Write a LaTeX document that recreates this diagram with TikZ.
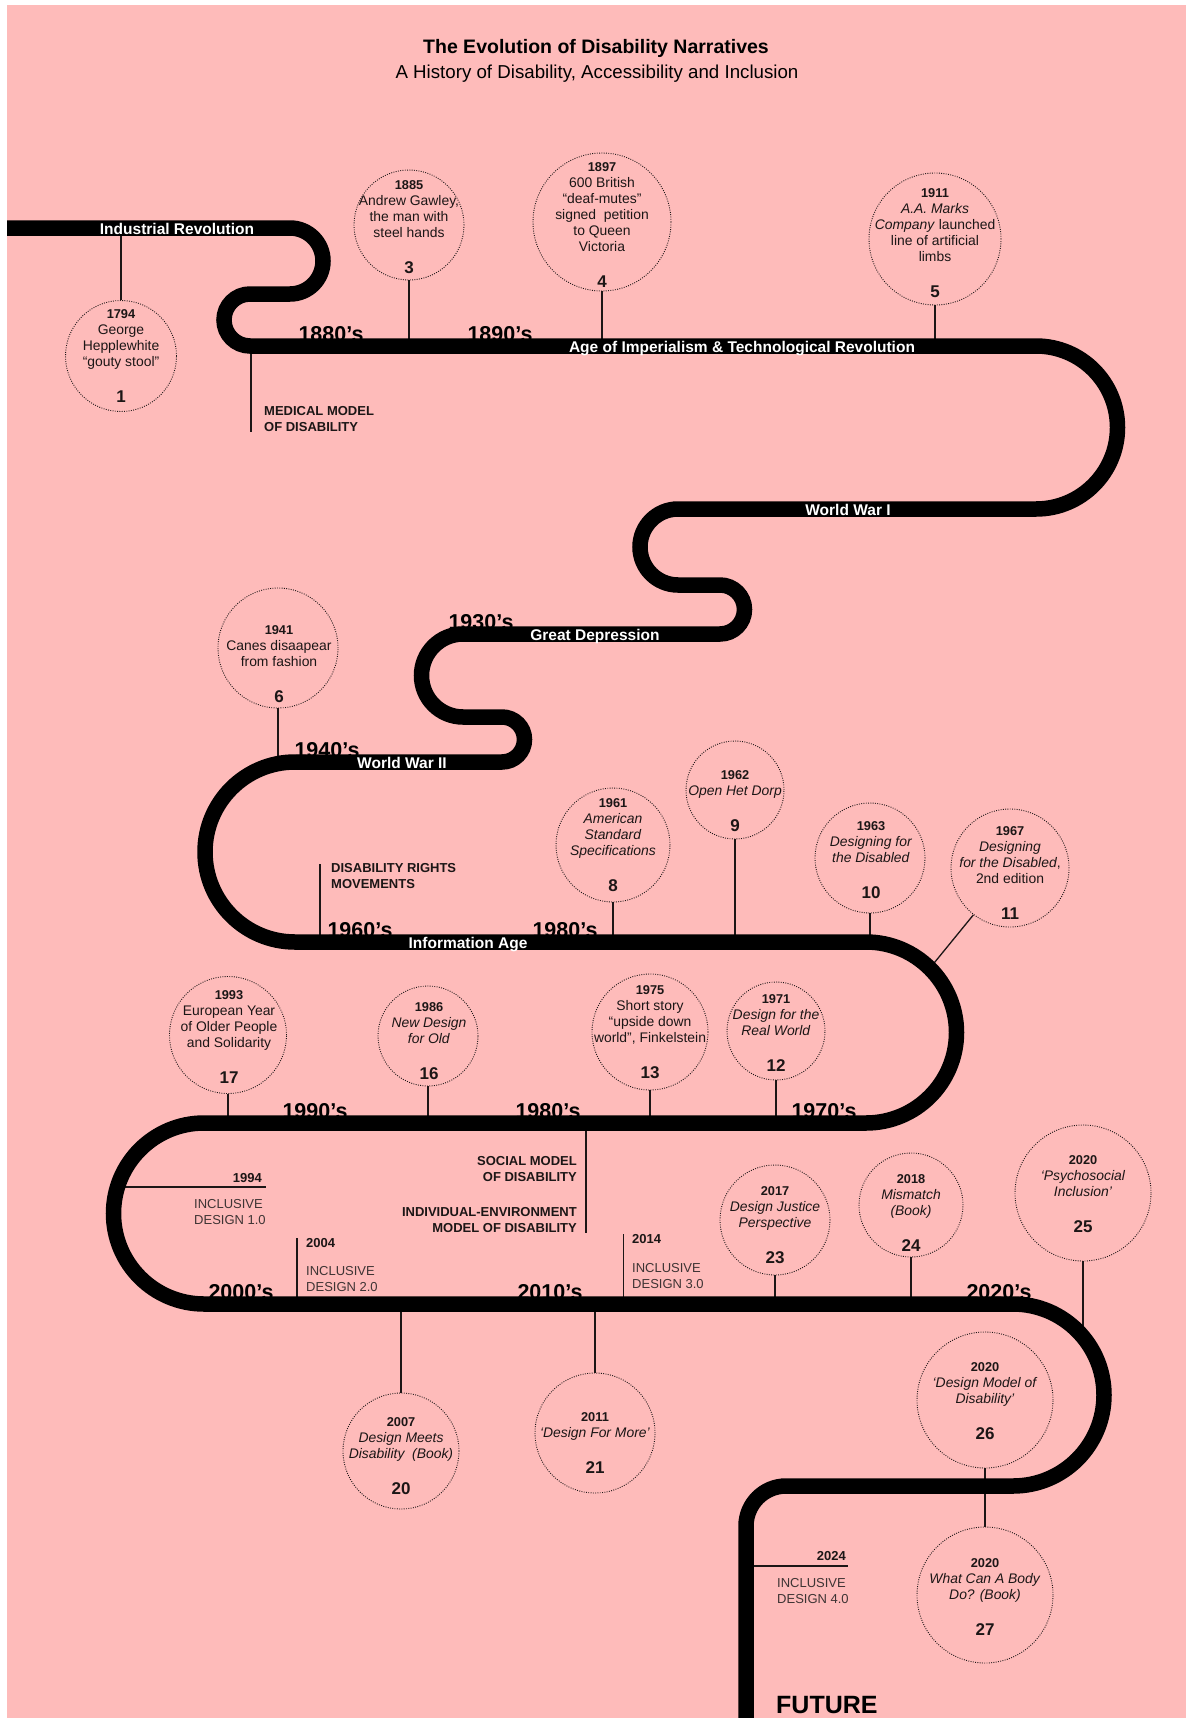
\documentclass[tikz,border=0pt]{standalone}
\usepackage{fontspec}
\setmainfont{Liberation Sans}
\usetikzlibrary{positioning}

\definecolor{bgpink}{RGB}{254,187,186}
\definecolor{inkdark}{RGB}{28,22,22}
\definecolor{inkgrey}{RGB}{62,52,52}

\newcommand{\evyear}[1]{{\fontsize{12.8}{16}\selectfont\bfseries #1}}
\newcommand{\evnumber}[1]{{\fontsize{17}{16}\selectfont\bfseries #1}}

\begin{document}
\begin{tikzpicture}[x=1pt,y=-1pt,
  road/.style={draw=black, line width=15.5pt},
  roadlbl/.style={text=white, font=\fontsize{15.5}{18}\selectfont\bfseries, anchor=base, inner sep=0pt},
  decade/.style={text=black, font=\fontsize{21.5}{24}\selectfont\bfseries, anchor=base, inner sep=0pt},
  ring/.style={circle, draw=inkdark, line width=0.9pt, dash pattern=on 0.9pt off 1.4pt, inner sep=0pt},
  evt/.style={align=center, text=inkdark, font=\fontsize{13.9}{16}\selectfont, inner sep=0pt},
  stem/.style={draw=inkdark, line width=1.3pt},
  cat/.style={text=inkdark, font=\fontsize{13}{15.5}\selectfont\bfseries, inner sep=0pt},
  incl/.style={text=inkgrey, font=\fontsize{13}{15.5}\selectfont, align=left, inner sep=0pt}]

% page
\fill[white] (0,0) rectangle (1186,1718);
\fill[bgpink] (7,5) rectangle (1186,1718);
\useasboundingbox (0,0) rectangle (1186,1718);

% title
\node[font=\fontsize{19.5}{22}\selectfont\bfseries, anchor=base] (title) at (596,54) {The Evolution of Disability Narratives};
\node[font=\fontsize{18.7}{22}\selectfont, anchor=base] (subtitle) at (597,79) {A History of Disability, Accessibility and Inclusion};

% levels of the road
\coordinate (yIR) at (0,228);
\coordinate (yAI) at (0,346);
\coordinate (yWW2) at (0,762);
\coordinate (yIA) at (0,942);
\coordinate (ySeventy) at (0,1123);
\coordinate (yTwoK) at (0,1304);

% decades, behind the road
\node[decade] (d1880) at (331,341) {1880’s};
\node[decade] (d1890) at (500,341) {1890’s};
\node[decade] (d1930) at (481,629) {1930’s};
\node[decade] (d1940) at (327,757) {1940’s};
\node[decade] (d1960) at (360,937) {1960’s};
\node[decade] (d1980a) at (565,937) {1980’s};
\node[decade] (d1990) at (315,1118) {1990’s};
\node[decade] (d1980b) at (548,1118) {1980’s};
\node[decade] (d1970) at (824,1118) {1970’s};
\node[decade] (d2000) at (241,1299) {2000’s};
\node[decade] (d2010) at (550,1299) {2010’s};
\node[decade] (d2020) at (999,1299) {2020’s};

% event circles
\node[ring, minimum size=111pt] (c1) at (121,356) {};
\node[ring, minimum size=110pt] (c3) at (409,225) {};
\node[ring, minimum size=138pt] (c4) at (602,222) {};
\node[ring, minimum size=132pt] (c5) at (935,239) {};
\node[ring, minimum size=120pt] (c6) at (278,648) {};
\node[ring, minimum size=114pt] (c8) at (613,845) {};
\node[ring, minimum size=98pt] (c9) at (735,790) {};
\node[ring, minimum size=110pt] (c10) at (870,858) {};
\node[ring, minimum size=118pt] (c11) at (1010,868) {};
\node[ring, minimum size=98pt] (c12) at (776,1031) {};
\node[ring, minimum size=116pt] (c13) at (650,1032) {};
\node[ring, minimum size=100pt] (c16) at (428,1036) {};
\node[ring, minimum size=117pt] (c17) at (228,1035) {};
\node[ring, minimum size=116pt] (c20) at (401,1451) {};
\node[ring, minimum size=120pt] (c21) at (595,1433) {};
\node[ring, minimum size=110pt] (c23) at (775,1220) {};
\node[ring, minimum size=104pt] (c24) at (911,1205) {};
\node[ring, minimum size=136pt] (c25) at (1083,1193) {};
\node[ring, minimum size=136pt] (c26) at (985,1400) {};
\node[ring, minimum size=136pt] (c27) at (985,1595) {};

\node[evt] (t1) at (121,356) {\evyear{1794}\\George\\Hepplewhite\\“gouty stool”\\[20pt]\evnumber{1}};
\node[evt] (t3) at (409,227) {\evyear{1885}\\Andrew Gawley,\\the man with\\steel hands\\[20pt]\evnumber{3}};
\node[evt] (t4) at (602,225) {\evyear{1897}\\600 British\\“deaf-mutes”\\signed~~petition\\to Queen\\Victoria\\[20pt]\evnumber{4}};
\node[evt] (t5) at (935,243) {\evyear{1911}\\\textit{A.A. Marks}\\\textit{Company} launched\\line of artificial\\limbs\\[20pt]\evnumber{5}};
\node[evt] (t6) at (279,664) {\evyear{1941}\\Canes disaapear\\from fashion\\[20pt]\evnumber{6}};
\node[evt] (t8) at (613,845) {\evyear{1961}\\\textit{American}\\\textit{Standard}\\\textit{Specifications}\\[20pt]\evnumber{8}};
\node[evt] (t9) at (735,801) {\evyear{1962}\\\textit{Open Het Dorp}\\[20pt]\evnumber{9}};
\node[evt] (t10) at (871,860) {\evyear{1963}\\\textit{Designing for}\\\textit{the Disabled}\\[20pt]\evnumber{10}};
\node[evt] (t11) at (1010,873) {\evyear{1967}\\\textit{Designing}\\\textit{for the Disabled},\\2nd edition\\[20pt]\evnumber{11}};
\node[evt] (t12) at (776,1033) {\evyear{1971}\\\textit{Design for the}\\\textit{Real World}\\[20pt]\evnumber{12}};
\node[evt] (t13) at (650,1032) {\evyear{1975}\\Short story\\“upside down\\world”, Finkelstein\\[20pt]\evnumber{13}};
\node[evt] (t16) at (429,1041) {\evyear{1986}\\\textit{New Design}\\\textit{for Old}\\[20pt]\evnumber{16}};
\node[evt] (t17) at (229,1037) {\evyear{1993}\\European Year\\of Older People\\and Solidarity\\[20pt]\evnumber{17}};
\node[evt] (t20) at (401,1456) {\evyear{2007}\\\textit{Design Meets}\\\textit{Disability~~(Book)}\\[20pt]\evnumber{20}};
\node[evt] (t21) at (595,1443) {\evyear{2011}\\\textit{‘Design For More’}\\[20pt]\evnumber{21}};
\node[evt] (t23) at (775,1225) {\evyear{2017}\\\textit{Design Justice}\\\textit{Perspective}\\[20pt]\evnumber{23}};
\node[evt] (t24) at (911,1213) {\evyear{2018}\\\textit{Mismatch}\\\textit{(Book)}\\[20pt]\evnumber{24}};
\node[evt] (t25) at (1083,1194) {\evyear{2020}\\\textit{‘Psychosocial}\\\textit{Inclusion’}\\[20pt]\evnumber{25}};
\node[evt] (t26) at (985,1401) {\evyear{2020}\\\textit{‘Design Model of}\\\textit{Disability’}\\[20pt]\evnumber{26}};
\node[evt] (t27) at (985,1597) {\evyear{2020}\\\textit{What Can A Body}\\\textit{Do? (Book)}\\[20pt]\evnumber{27}};

% stems from the circles to the road
\coordinate (k11) at (930,968);
\coordinate (k25) at (1083,1338);
\draw[stem] (c1.north) -- (c1.north |- yIR);
\draw[stem] (c3.south) -- (c3.south |- yAI);
\draw[stem] (c4.south) -- (c4.south |- yAI);
\draw[stem] (c5.south) -- (c5.south |- yAI);
\draw[stem] (c6.south) -- (c6.south |- yWW2);
\draw[stem] (c8.south) -- (c8.south |- yIA);
\draw[stem] (c9.south) -- (c9.south |- yIA);
\draw[stem] (c10.south) -- (c10.south |- yIA);
\draw[stem] (c11.232) -- (k11);
\draw[stem] (c12.south) -- (c12.south |- ySeventy);
\draw[stem] (c13.south) -- (c13.south |- ySeventy);
\draw[stem] (c16.south) -- (c16.south |- ySeventy);
\draw[stem] (c17.south) -- (c17.south |- ySeventy);
\draw[stem] (c20.north) -- (c20.north |- yTwoK);
\draw[stem] (c21.north) -- (c21.north |- yTwoK);
\draw[stem] (c23.south) -- (c23.south |- yTwoK);
\draw[stem] (c24.south) -- (c24.south |- yTwoK);
\draw[stem] (c25.south) -- (k25);
\draw[stem] (c26.south) -- (c27.north);

% models of disability
\node[cat, anchor=north west, align=left] (medical) at (264,406.5) {MEDICAL MODEL\\OF DISABILITY};
\node[cat, anchor=north west, align=left] (rights) at (331,863.5) {DISABILITY RIGHTS\\MOVEMENTS};
\node[cat, anchor=north east, align=right] (social) at (577,1156.5) {SOCIAL MODEL\\OF DISABILITY};
\node[cat, anchor=north east, align=right] (indiv) at (577,1207.5) {INDIVIDUAL-ENVIRONMENT\\MODEL OF DISABILITY};
\coordinate (medroad) at (251,346);
\coordinate (rightsroad) at (320,942);
\coordinate (socialroad) at (586,1123);
\draw[stem] (medroad) -- (medroad |- medical.south);
\draw[stem] (rightsroad) -- (rightsroad |- rights.north);
\draw[stem] (socialroad) -- (socialroad |- indiv.south);

% inclusive design
\node[cat, anchor=base east] (y1994) at (262,1182) {1994};
\node[incl, anchor=north west] (id1) at (194,1199.5) {INCLUSIVE\\DESIGN 1.0};
\node[cat, anchor=base west] (y2004) at (306,1247.5) {2004};
\node[incl, anchor=north west] (id2) at (306,1266.5) {INCLUSIVE\\DESIGN 2.0};
\node[cat, anchor=base west] (y2014) at (632,1243.5) {2014};
\node[incl, anchor=north west] (id3) at (632,1263.5) {INCLUSIVE\\DESIGN 3.0};
\node[cat, anchor=base east] (y2024) at (846,1560.5) {2024};
\node[incl, anchor=north west] (id4) at (777,1578.5) {INCLUSIVE\\DESIGN 4.0};
\coordinate (id1road) at (119,1187);
\coordinate (id1end) at (266,1187);
\coordinate (id2road) at (297,1304);
\coordinate (id3road) at (623.5,1304);
\coordinate (id4road) at (746,1566);
\coordinate (id4end) at (848,1566);
\draw[stem] (id1road) -- (id1end);
\draw[stem] (id2road) -- (id2road |- y2004.north);
\draw[stem] (id3road) -- (id3road |- y2014.north);
\draw[stem] (id4road) -- (id4end);

% the road
\draw[road] (7,228) -- (290,228) arc[start angle=-90, end angle=90, radius=33]
  -- (250,294) arc[start angle=270, end angle=90, radius=26]
  -- (1036,346) arc[start angle=-90, end angle=90, radius=81.5]
  -- (678,509) arc[start angle=270, end angle=90, radius=38]
  -- (720,585) arc[start angle=-90, end angle=90, radius=24.5]
  -- (463,634) arc[start angle=270, end angle=90, radius=41.5]
  -- (502,717) arc[start angle=-90, end angle=90, radius=22.5]
  -- (295,762) arc[start angle=270, end angle=90, radius=90]
  -- (866,942) arc[start angle=-90, end angle=90, radius=90.5]
  -- (204,1123) arc[start angle=270, end angle=90, radius=90.5]
  -- (1013,1304) arc[start angle=-90, end angle=90, radius=91]
  [rounded corners=40pt] -- (746,1486) -- (746,1730);

% eras on the road
\node[roadlbl] (industrial) at (177,234) {Industrial Revolution};
\node[roadlbl] (imperialism) at (742,352) {Age of Imperialism \& Technological Revolution};
\node[roadlbl] (ww1) at (848,515) {World War I};
\node[roadlbl] (depression) at (595,640) {Great Depression};
\node[roadlbl] (ww2) at (402,768) {World War II};
\node[roadlbl] (information) at (468,948) {Information Age};

\node[font=\fontsize{25}{28}\selectfont\bfseries, anchor=base west, inner sep=0pt] (future) at (776,1713) {FUTURE};
\end{tikzpicture}
\end{document}
